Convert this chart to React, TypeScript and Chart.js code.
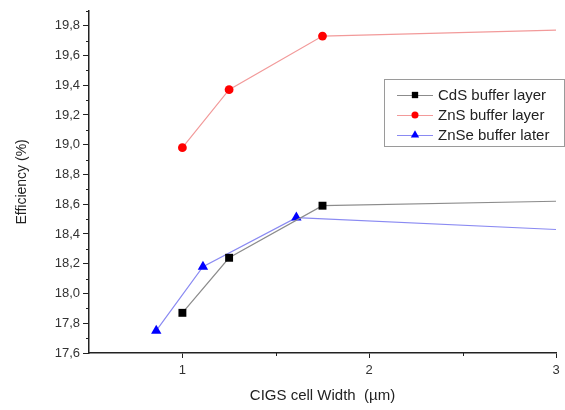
import React, { useEffect, useRef } from "react";
import { Chart, registerables } from "chart.js";

Chart.register(...registerables);

// ---- data ----
const seriesLabels = ["CdS buffer layer", "ZnS buffer layer", "ZnSe buffer later"];
const xCdS = [1, 1.25, 1.75, 3];
const yCdS = [17.87, 18.24, 18.59, 18.62];
const xZnS = [1, 1.25, 1.75, 3];
const yZnS = [18.98, 19.37, 19.73, 19.77];
const xZnSe = [0.86, 1.11, 1.61, 3];
const yZnSe = [17.75, 18.18, 18.51, 18.43];
const xTitle = "CIGS cell Width  (µm)";
const yTitle = "Efficiency (%)";
const xMin = 0.5, xMax = 3;
const yMin = 17.6, yMax = 19.9;

const FONT = "'Liberation Sans', Arial, sans-serif";
const AXIS = "#222";

const lineColors = ["#8c8c8c", "#f29a9a", "#8a8af2"];
const markColors = ["#000000", "#ff0000", "#0000ff"];
const markStyles = ["rect", "circle", "triangle"];
const markRadius = [5.6, 4.4, 6];

function pts(xs: number[], ys: number[]) {
  return xs.map((x, i) => ({ x, y: ys[i] }));
}

function drawMarker(ctx: CanvasRenderingContext2D, style: string, x: number, y: number, r: number, color: string) {
  ctx.fillStyle = color;
  ctx.beginPath();
  if (style === "rect") {
    const s = r * Math.SQRT1_2;
    ctx.rect(x - s, y - s, 2 * s, 2 * s);
  } else if (style === "circle") {
    ctx.arc(x, y, r, 0, Math.PI * 2);
  } else {
    const a = Math.PI / 2;
    ctx.moveTo(x, y - r);
    ctx.lineTo(x + r * Math.cos(a - Math.PI * 2 / 3 + Math.PI) * -1, y + r * 0.5);
    ctx.lineTo(x - r * Math.sin(Math.PI / 3), y + r * 0.5);
    ctx.closePath();
  }
  ctx.fill();
}

const minorTicks = {
  id: "minorTicks",
  afterDraw(chart: any) {
    const ctx = chart.ctx as CanvasRenderingContext2D;
    const xs = chart.scales.x, ys = chart.scales.y;
    ctx.save();
    ctx.strokeStyle = AXIS;
    ctx.lineWidth = 1;
    ys.ticks.forEach((t: any) => {
      const k = Math.round(t.value * 10);
      if (k % 2 !== 0) {
        const py = Math.round(ys.getPixelForValue(t.value)) + 0.5;
        ctx.beginPath();
        ctx.moveTo(ys.right - 3, py);
        ctx.lineTo(ys.right, py);
        ctx.stroke();
      }
    });
    xs.ticks.forEach((t: any) => {
      const v = t.value;
      if (Math.abs(v - Math.round(v)) > 1e-6 && v > xMin + 0.01) {
        const px = Math.round(xs.getPixelForValue(v)) + 0.5;
        ctx.beginPath();
        ctx.moveTo(px, xs.top);
        ctx.lineTo(px, xs.top + 3);
        ctx.stroke();
      }
    });
    ctx.restore();
  },
};

const boxLegend = {
  id: "boxLegend",
  afterDraw(chart: any) {
    const ctx = chart.ctx as CanvasRenderingContext2D;
    const bx = 384, by = 79, bw = 180, bh = 67;
    ctx.save();
    ctx.fillStyle = "#fff";
    ctx.fillRect(bx, by, bw, bh);
    ctx.strokeStyle = "#9a9a9a";
    ctx.lineWidth = 1;
    ctx.strokeRect(bx + 0.5, by + 0.5, bw, bh);
    chart.data.datasets.forEach((ds: any, i: number) => {
      const cy = by + 16 + i * 20;
      ctx.strokeStyle = ds.borderColor;
      ctx.lineWidth = 1;
      ctx.beginPath();
      ctx.moveTo(397, cy + 0.5);
      ctx.lineTo(433, cy + 0.5);
      ctx.stroke();
      drawMarker(ctx, markStyles[i], 415, cy, markRadius[i] * 0.8, markColors[i]);
      ctx.fillStyle = "#222";
      ctx.font = `15px ${FONT}`;
      ctx.textBaseline = "middle";
      ctx.textAlign = "left";
      ctx.fillText(ds.label, 438, cy + 1);
    });
    ctx.restore();
  },
};

export default function App() {
  const ref = useRef<HTMLCanvasElement | null>(null);
  useEffect(() => {
    if (!ref.current) return;
    const series = [pts(xCdS, yCdS), pts(xZnS, yZnS), pts(xZnSe, yZnSe)];
    const chart = new Chart(ref.current, {
      type: "line",
      data: {
        datasets: series.map((d, i) => ({
          label: seriesLabels[i],
          data: d,
          borderColor: lineColors[i],
          borderWidth: 1.2,
          backgroundColor: markColors[i],
          pointBackgroundColor: markColors[i],
          pointBorderColor: markColors[i],
          pointBorderWidth: 0,
          pointStyle: markStyles[i] as any,
          pointRadius: (c: any) => (c.dataIndex === d.length - 1 ? 0 : markRadius[i]),
          tension: 0,
          clip: false as any,
        })),
      },
      options: {
        responsive: false,
        animation: false,
        layout: { padding: { top: 5, right: 9, left: 0, bottom: 0 } },
        plugins: { legend: { display: false }, tooltip: { enabled: false } },
        scales: {
          x: {
            type: "linear",
            min: xMin,
            max: xMax,
            afterFit: (s: any) => { s.height = 57; },
            ticks: {
              stepSize: 0.5,
              autoSkip: false,
              maxRotation: 0,
              padding: 5,
              color: "#333",
              font: { family: FONT, size: 13 },
              callback: (v: any) => {
                const n = Number(v);
                return Math.abs(n - Math.round(n)) < 1e-6 ? String(Math.round(n)) : "";
              },
            },
            grid: {
              drawOnChartArea: false,
              tickLength: 5,
              tickWidth: 1,
              tickColor: (c: any) => {
                const n = c.tick ? c.tick.value : 0;
                return Math.abs(n - Math.round(n)) < 1e-6 ? AXIS : "rgba(0,0,0,0)";
              },
            },
            border: { display: true, color: AXIS, width: 1.5 },
            title: {
              display: true,
              text: xTitle,
              color: "#222",
              font: { family: FONT, size: 15 },
              padding: { top: 0, bottom: 5 },
            },
          },
          y: {
            type: "linear",
            min: yMin,
            max: yMax,
            afterFit: (s: any) => { s.width = 89; },
            ticks: {
              stepSize: 0.1,
              autoSkip: false,
              padding: 3,
              color: "#333",
              font: { family: FONT, size: 13 },
              callback: (v: any) => {
                const k = Math.round(Number(v) * 10);
                if (k % 2 !== 0) return "";
                return (k / 10).toFixed(1).replace(".", ",");
              },
            },
            grid: {
              drawOnChartArea: false,
              tickLength: 6,
              tickWidth: 1,
              tickColor: (c: any) => {
                const k = Math.round((c.tick ? c.tick.value : 0) * 10);
                return k % 2 === 0 ? AXIS : "rgba(0,0,0,0)";
              },
            },
            border: { display: true, color: AXIS, width: 1.5 },
            title: {
              display: true,
              text: yTitle,
              color: "#222",
              font: { family: FONT, size: 14 },
              padding: { top: 14, bottom: 0 },
            },
          },
        },
      },
      plugins: [minorTicks, boxLegend],
    });
    return () => chart.destroy();
  }, []);
  return (
    <div style={{ position: "absolute", left: 0, top: 0, width: 565, height: 410, background: "#fff" }}>
      <canvas ref={ref} width={565} height={410} style={{ display: "block" }} />
    </div>
  );
}
